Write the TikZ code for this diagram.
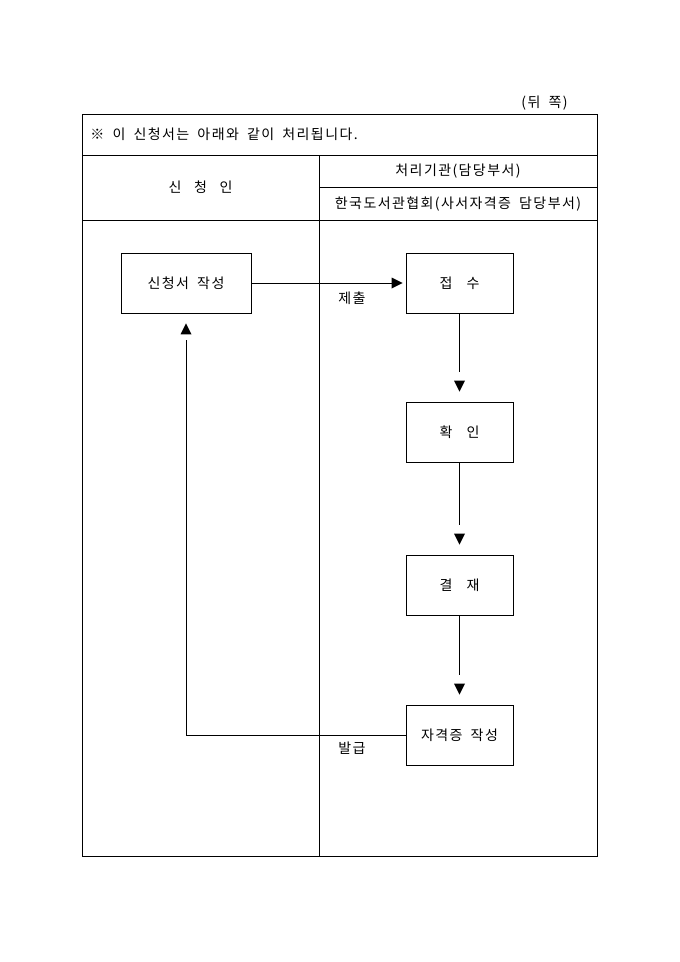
\documentclass[tikz,border=0pt]{standalone}
\usepackage{fontspec}
\setmainfont{Noto Sans CJK KR}[WordSpace=1.8,LetterSpace=10]
\usetikzlibrary{calc}
\begin{document}
\begin{tikzpicture}[x=1pt,y=-1pt,line width=0.8pt,
  every node/.style={font=\fontsize{14}{16}\selectfont,inner sep=0pt},
  procbox/.style={draw,minimum width=107pt,minimum height=60pt},
  flowline/.style={line width=0.8pt}]
\useasboundingbox (0,0) rectangle (680,962);
% table frame
\draw (82,114) rectangle (597,856);
\draw (82,155) -- (597,155);
\draw (319,155) -- (319,856);
\draw (319,187) -- (597,187);
\draw (82,220) -- (597,220);
% header texts
\node[anchor=east] (side) at (568,103) {(뒤 쪽)};
\node[anchor=west] (note) at (90,134) {※ 이 신청서는 아래와 같이 처리됩니다.};
\node (applicant) at (200.5,187.5) {신\hspace{0.9em}청\hspace{0.9em}인};
\node (agency) at (458,171) {처리기관(담당부서)};
\node (kla) at (458,204) {한국도서관협회(사서자격증 담당부서)};
% process boxes
\node[procbox,minimum width=130pt] (write) at (186,283) {신청서 작성};
\node[procbox] (receive) at (459.5,283) {접\hspace{1em}수};
\node[procbox] (confirm) at (459.5,432) {확\hspace{1em}인};
\node[procbox] (approve) at (459.5,585) {결\hspace{1em}재};
\node[procbox] (issue) at (459.5,735) {자격증 작성};
% submit arrow
\coordinate (subtip) at ($(receive.west)+(-3,0)$);
\coordinate (subbase) at ($(receive.west)+(-14,0)$);
\draw[flowline] (write.east) -- (subbase);
\fill (subtip) -- ++(-11,-5.5) -- ++(0,11) -- cycle;
\node (submit) at (352,298) {제출};
% downward flow
\coordinate (d1) at ($(receive.south)+(0,59)$);
\draw[flowline] (receive.south) -- (d1);
\fill ($(confirm.north)+(0,-10)$) -- ++(-5.5,-11) -- ++(11,0) -- cycle;
\coordinate (d2) at ($(confirm.south)+(0,63)$);
\draw[flowline] (confirm.south) -- (d2);
\fill ($(approve.north)+(0,-10)$) -- ++(-5.5,-11) -- ++(11,0) -- cycle;
\coordinate (d3) at ($(approve.south)+(0,60)$);
\draw[flowline] (approve.south) -- (d3);
\fill ($(issue.north)+(0,-10)$) -- ++(-5.5,-11) -- ++(11,0) -- cycle;
% return arrow
\coordinate (ret) at ($(write.south)+(0,27)$);
\draw[flowline] (issue.west) -| (ret);
\fill ($(write.south)+(0,10)$) -- ++(-5.5,11) -- ++(11,0) -- cycle;
\node (issuelbl) at (352,748) {발급};
\end{tikzpicture}
\end{document}
